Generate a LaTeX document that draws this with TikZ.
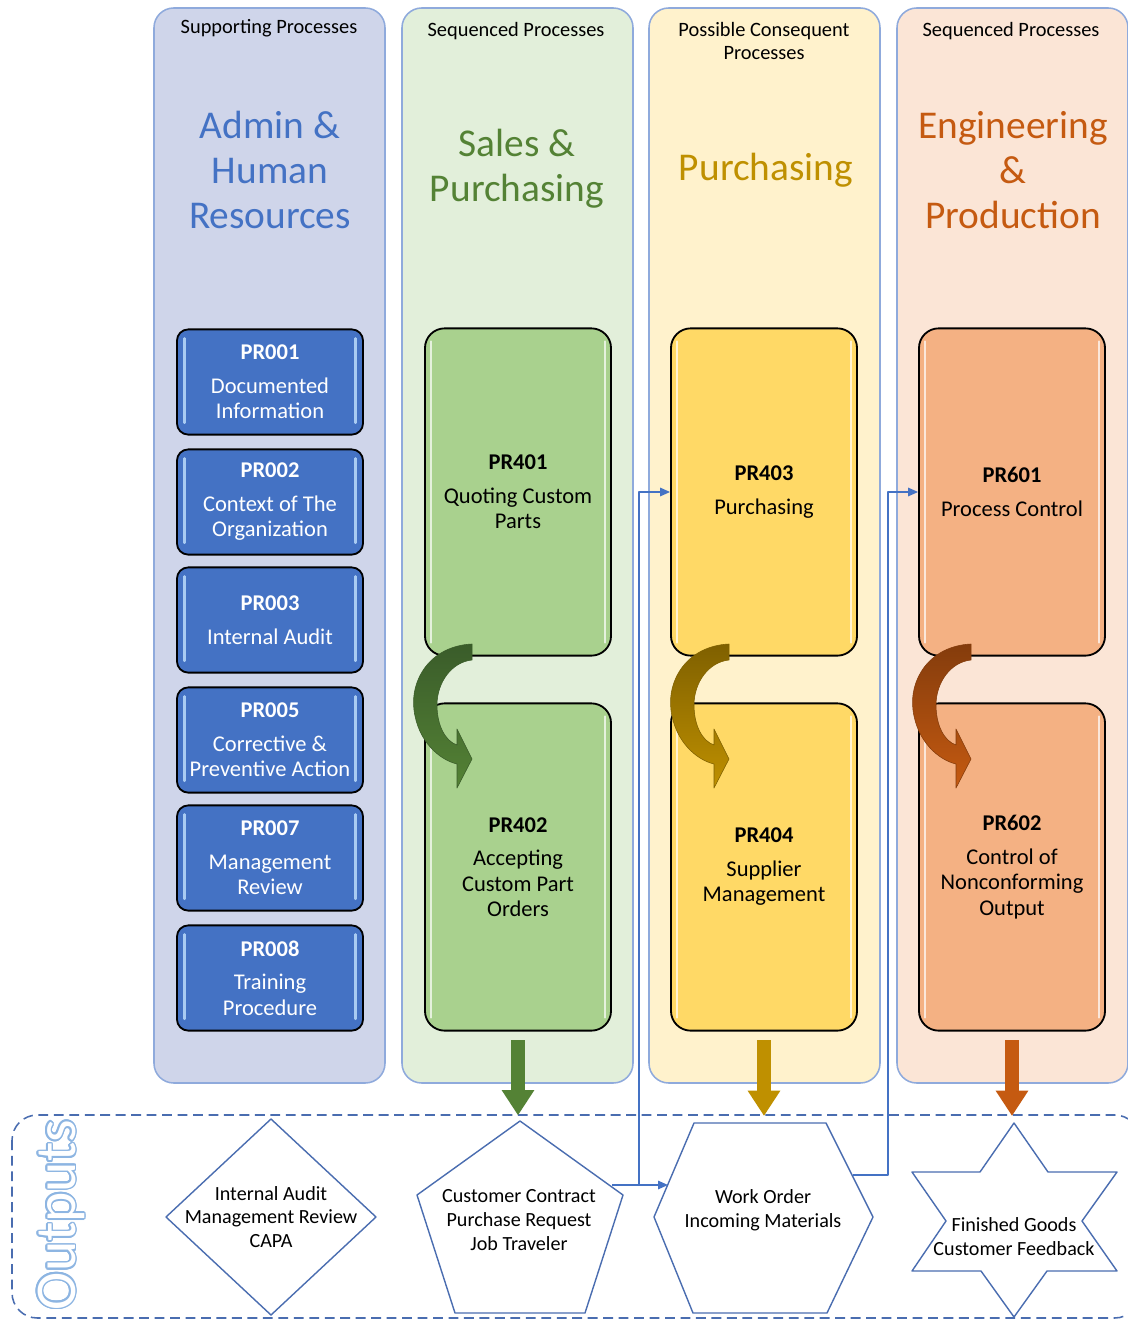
\documentclass[tikz,border=0pt]{standalone}
\usepackage{fontspec}
\setmainfont{Carlito}
\usepackage{contour}
\contourlength{1.2pt}
\usetikzlibrary{arrows.meta,positioning,calc}

\definecolor{laneblue}{HTML}{CFD5EA}
\definecolor{lanegreen}{HTML}{E2EFDA}
\definecolor{laneyellow}{HTML}{FFF2CC}
\definecolor{laneorange}{HTML}{FBE5D6}
\definecolor{laneline}{HTML}{8FAADC}
\definecolor{boxblue}{HTML}{4472C4}
\definecolor{boxgreen}{HTML}{A9D18E}
\definecolor{boxyellow}{HTML}{FFD966}
\definecolor{boxorange}{HTML}{F4B183}
\definecolor{shineblue}{HTML}{A9CBF2}
\definecolor{titleblue}{HTML}{4472C4}
\definecolor{gdark}{HTML}{3A5C2A}
\definecolor{gmid}{HTML}{548235}
\definecolor{ydark}{HTML}{7F6000}
\definecolor{ymid}{HTML}{BF9000}
\definecolor{odark}{HTML}{843C0C}
\definecolor{omid}{HTML}{C55A11}
\definecolor{linkblue}{HTML}{4472C4}
\definecolor{outline}{HTML}{4A6DB0}
\definecolor{outlight}{HTML}{8DB5E2}

\begin{document}
\begin{tikzpicture}[x=0.025cm,y=-0.025cm,line join=round,
  lane/.style={draw=laneline,line width=1.1pt,rounded corners=14pt},
  lanehead/.style={font=\fontsize{14.5}{17}\selectfont,align=center},
  lanetitle/.style={font=\fontsize{28}{32}\selectfont,align=center},
  supbox/.style={draw=black,line width=1.3pt,fill=boxblue,rounded corners=8pt,
    minimum width=4.65cm,minimum height=2.63cm,text=white,align=center,
    font=\fontsize{16}{18}\selectfont,inner sep=0pt},
  seqbox/.style={draw=black,line width=1.3pt,rounded corners=14pt,
    minimum width=4.65cm,minimum height=8.18cm,align=center,
    font=\fontsize{16}{18}\selectfont,inner sep=0pt},
  shine/.style={draw=#1,line width=1.6pt,line cap=round},
  downarrow/.style={draw=#1,line width=10.5pt,-{Triangle[length=18pt,width=22pt]}},
  link/.style={draw=linkblue,line width=0.9pt,-{Triangle[length=7pt,width=6pt]}},
  outshape/.style={draw=outline,line width=1pt,fill=white},
  outtxt/.style={font=\fontsize{14.3}{17}\selectfont,align=center}]
\useasboundingbox (0,0) rectangle (1128,1319);

%lanes
\foreach \x/\c in {154/laneblue,402/lanegreen,649/laneyellow,897/laneorange}
{
\draw[lane,fill=\c] (\x,8) rectangle ++(231,1075);
}
\node[lanehead] at (269,28) {Supporting Processes};
\node[lanehead] at (516,31) {Sequenced Processes};
\node[lanehead] at (764,41) {Possible Consequent\\Processes};
\node[lanehead] at (1011,31) {Sequenced Processes};

\node[lanetitle,text=titleblue] at (270,170) {Admin \&\\Human\\Resources};
\node[lanetitle,text=gmid] at (517,169) {Sales \&\\Purchasing};
\node[lanetitle,text=ymid] at (766,170) {Purchasing};
\node[lanetitle,text=omid] at (1013,170) {Engineering\\\&\\Production};

%supporting processes
\foreach \id/\yc/\txt in {PR001/382/{Documented\\Information},
  PR002/502/{Context of The\\Organization}, PR003/620/{Internal Audit},
  PR005/740/{Corrective \&\\Preventive Action}, PR007/858/{Management\\Review},
  PR008/978/{Training\\Procedure}}
{
\node[supbox] (\id) at (270,\yc) {\textbf{\id}\\[6pt]\txt};
\draw[shine=shineblue] ([xshift=6pt,yshift=-7pt]\id.north west) -- ([xshift=6pt,yshift=9pt]\id.south west);
\draw[shine=shineblue] ([xshift=-6pt,yshift=-7pt]\id.north east) -- ([xshift=-6pt,yshift=9pt]\id.south east);
}

%sequenced processes
\node[seqbox,fill=boxgreen] (PR401) at (518,492) {\textbf{PR401}\\[6pt]Quoting Custom\\Parts};
\node[seqbox,fill=boxgreen] (PR402) at (518,867) {\textbf{PR402}\\[6pt]Accepting\\Custom Part\\Orders};
\node[seqbox,fill=boxyellow] (PR403) at (764,492) {\textbf{PR403}\\[6pt]Purchasing};
\node[seqbox,fill=boxyellow] (PR404) at (764,867) {\textbf{PR404}\\[6pt]Supplier\\Management};
\node[seqbox,fill=boxorange] (PR601) at (1012,492) {\textbf{PR601}\\[6pt]Process Control};
\node[seqbox,fill=boxorange] (PR602) at (1012,867) {\textbf{PR602}\\[6pt]Control of\\Nonconforming\\Output};
\foreach \id in {PR401,PR402,PR403,PR404,PR601,PR602}
{
\draw[shine=white,opacity=0.7] ([xshift=5pt,yshift=-10pt]\id.north west) -- ([xshift=5pt,yshift=10pt]\id.south west);
\draw[shine=white,opacity=0.7] ([xshift=-5pt,yshift=-10pt]\id.north east) -- ([xshift=-5pt,yshift=10pt]\id.south east);
}

%bent arrows
\foreach \dx/\ca/\cb in {0/gdark/gmid,257/ydark/ymid,499/odark/omid}
{
\shade[top color=\ca,bottom color=\cb,draw=\ca,line width=0.4pt,shift={(\dx,0)}]
  (472,644) .. controls (430,646) and (410,680) .. (414,710)
  .. controls (418,742) and (440,760) .. (457,764) -- (457,788) -- (472,759)
  -- (457,729) -- (457,745) .. controls (445,741) and (437,725) .. (437,705)
  .. controls (437,682) and (452,662) .. (472,660) -- cycle;
}

%outputs
\draw[draw=outline,line width=1.1pt,dash pattern=on 7pt off 4pt,rounded corners=18pt]
  (12,1115) rectangle (1140,1318);
\node[rotate=90,font=\fontsize{41}{41}\selectfont] (outlbl) at (62,1215)
  {\contour{outlight}{\textcolor{white}{Outputs}}};

\draw[outshape] (271,1119) coordinate (iaT) -- (376,1217) -- (271,1315) -- (166,1217) -- cycle;
\draw[outshape] (520,1121) coordinate (ccT) -- (623,1195) -- (585,1313) -- (455,1313) -- (417,1195) -- cycle;
\draw[outshape] (694,1123) -- (826,1123) -- (873,1217) -- (827,1313) -- (693,1313) -- (654,1217) -- cycle;
\draw[outshape] (1014,1123) -- (1048,1172) -- (1117,1172) -- (1082,1221) -- (1117,1271)
  -- (1047,1271) -- (1014,1317) -- (981,1271) -- (912,1271) -- (946,1221) -- (912,1172)
  -- (980,1172) -- cycle;
\coordinate (woT) at (762,1123);
\coordinate (fgT) at (1014,1123);

\node[outtxt] (ia) at (271,1217) {Internal Audit\\Management Review\\CAPA};
\node[outtxt] (cc) at (519,1220) {Customer Contract\\Purchase Request\\Job Traveler};
\node[outtxt] (wo) at (763,1210) {Work Order\\Incoming Materials};
\node[outtxt] (fg) at (1014,1237) {Finished Goods\\Customer Feedback};

%down arrows
\draw[downarrow=gmid,shorten >=4pt] ([yshift=-6pt]PR402.south) -- (PR402.south |- ccT);
\draw[downarrow=ymid,shorten >=5pt] ([yshift=-6pt]PR404.south) -- (PR404.south |- woT);
\draw[downarrow=omid,shorten >=5pt] ([yshift=-6pt]PR602.south) -- (PR602.south |- fgT);

%links
\coordinate (ccR) at (612,1185);
\coordinate (ccJ) at (639,1185);
\coordinate (woL) at (668,1185);
\coordinate (woR) at (853,1175);
\coordinate (woJ) at (888,1175);
\draw[link] (ccR) -- (ccJ) |- (PR403.west);
\draw[link] (ccJ) -- (woL);
\draw[link] (woR) -- (woJ) |- (PR601.west);
\end{tikzpicture}
\end{document}
